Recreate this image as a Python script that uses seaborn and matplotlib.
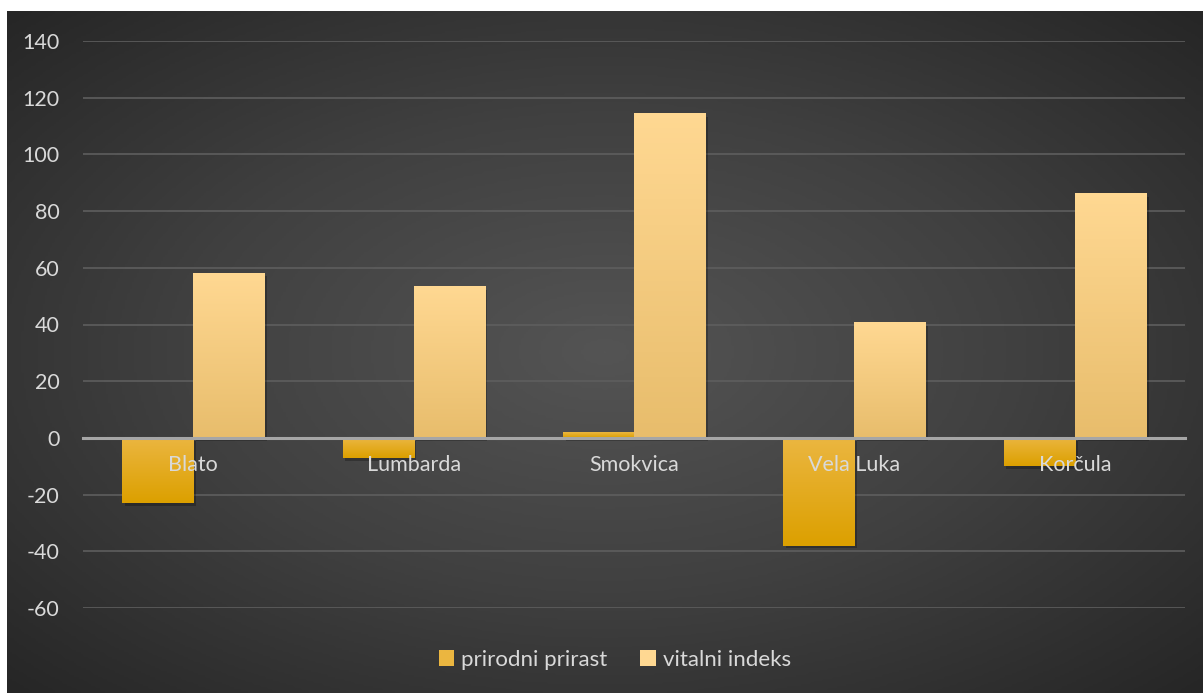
import numpy as np
import pandas as pd
import matplotlib.pyplot as plt
import matplotlib.patheffects as pe
from matplotlib.colors import LinearSegmentedColormap
from matplotlib.patches import Patch
import seaborn as sns

opcine = ['Blato', 'Lumbarda', 'Smokvica', 'Vela Luka', 'Korčula']
prirodni_prirast = [-23, -7, 2, -38, -10]
vitalni_indeks = [58.2, 53.3, 114.3, 40.6, 86.1]
serije = ['prirodni prirast', 'vitalni indeks']
y_ticks = list(range(-60, 141, 20))

df = pd.DataFrame({
    'opcina': opcine * 2,
    'vrijednost': prirodni_prirast + vitalni_indeks,
    'pokazatelj': [serije[0]] * len(opcine) + [serije[1]] * len(opcine),
})

# top colour / bottom colour of each series gradient
gradijenti = {
    serije[0]: ('#ebb640', '#dca000'),
    serije[1]: ('#ffd892', '#e8bd6c'),
}
boje = {s: gradijenti[s][0] for s in serije}

sns.set_theme(style='dark')
plt.rcParams['font.family'] = ['Lato', 'DejaVu Sans']
plt.rcParams['axes.unicode_minus'] = False

fig = plt.figure(figsize=(12.03, 6.93), dpi=100)
fig.patch.set_facecolor('white')

# radial gradient background
bg = fig.add_axes([7 / 1203, 0, 1 - 7 / 1203, 1 - 11 / 693])
yy, xx = np.mgrid[-1:1:300j, -1:1:500j]
r = np.clip(np.sqrt(xx ** 2 + yy ** 2) / np.sqrt(2), 0, 1)
bg_cmap = LinearSegmentedColormap.from_list('bg', ['#545454', '#404040', '#262626'])
bg.imshow(r, cmap=bg_cmap, aspect='auto', extent=(0, 1, 0, 1), vmin=0, vmax=1)
bg.set_axis_off()

ax = fig.add_axes([83 / 1203, 1 - 608 / 693, (1185 - 83) / 1203, (608 - 41) / 693])
ax.patch.set_alpha(0)

sns.barplot(data=df, x='opcina', y='vrijednost', hue='pokazatelj',
            palette=boje, width=0.645, ax=ax, legend=False, zorder=2)

# gradient fill for each bar
for cont, s in zip(ax.containers, serije):
    cmap = LinearSegmentedColormap.from_list(s, [gradijenti[s][1], gradijenti[s][0]])
    for bar in cont:
        x0, y0 = bar.get_x(), bar.get_y()
        w, h = bar.get_width(), bar.get_height()
        lo, hi = min(y0, y0 + h), max(y0, y0 + h)
        bar.set_edgecolor('none')
        bar.set_path_effects([pe.SimplePatchShadow(offset=(2, -2), alpha=0.25, shadow_rgbFace='black'),
                              pe.Normal()])
        ax.imshow(np.linspace(0, 1, 64).reshape(-1, 1), cmap=cmap, origin='lower',
                  extent=(x0, x0 + w, lo, hi), aspect='auto', zorder=3)

ax.set_aspect('auto')
ax.set_ylim(-60, 140)
ax.set_xlim(-0.5, len(opcine) - 0.5)

ax.set_yticks(y_ticks)
ax.yaxis.grid(True, color='#5e5e5e', linewidth=1.2)
ax.xaxis.grid(False)
ax.yaxis.set_zorder(0.5)
ax.xaxis.set_zorder(6)
for sp in ['top', 'right', 'left']:
    ax.spines[sp].set_visible(False)
ax.spines['bottom'].set_position(('data', 0))
ax.spines['bottom'].set_color('#a6a6a6')
ax.spines['bottom'].set_linewidth(2.2)
ax.spines['bottom'].set_zorder(4)

ax.tick_params(axis='y', colors='#d9d9d9', labelsize=15.5, length=0, pad=17)
ax.tick_params(axis='x', colors='#d9d9d9', labelsize=15.5, length=0, pad=12)
ax.set_xlabel('')
ax.set_ylabel('')

handles = [Patch(facecolor=boje[s], edgecolor='none', label=s) for s in serije]
fig.legend(handles=handles, loc='center', bbox_to_anchor=(0.511, 0.048),
           ncol=2, frameon=False, fontsize=16, labelcolor='#d9d9d9',
           handlelength=0.7, handleheight=0.7, handletextpad=0.3, columnspacing=1.5)

fig.savefig('out.png', dpi=100, facecolor=fig.get_facecolor())
